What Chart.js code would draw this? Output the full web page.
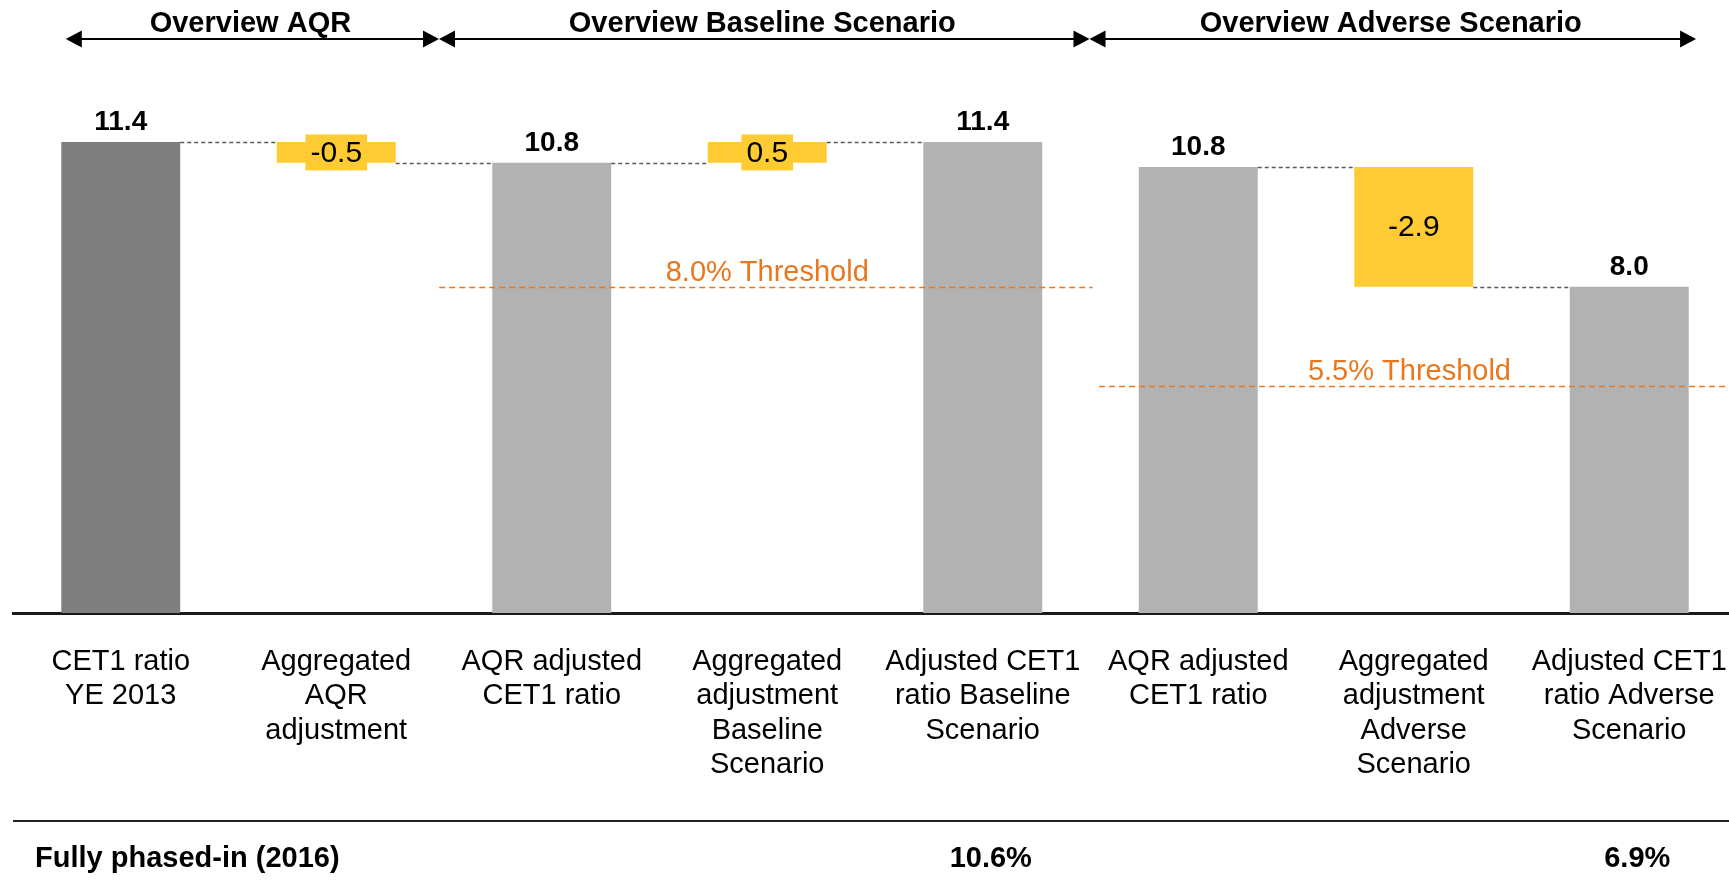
<!DOCTYPE html>
<html>
<head>
<meta charset="utf-8">
<script src="https://cdn.jsdelivr.net/npm/chart.js@4.4.1/dist/chart.umd.min.js"></script>
<style>
  html, body { margin: 0; padding: 0; background: #fff; overflow: hidden; }
  #wrap { width: 1737px; height: 887px; }
</style>
</head>
<body>
<div id="wrap"><canvas id="waterfall"></canvas></div>
<script>
(() => {
  'use strict'

  // Data
  const categories = [
    ['CET1 ratio', 'YE 2013'],
    ['Aggregated', 'AQR', 'adjustment'],
    ['AQR adjusted', 'CET1 ratio'],
    ['Aggregated', 'adjustment', 'Baseline', 'Scenario'],
    ['Adjusted CET1', 'ratio Baseline', 'Scenario'],
    ['AQR adjusted', 'CET1 ratio'],
    ['Aggregated', 'adjustment', 'Adverse', 'Scenario'],
    ['Adjusted CET1', 'ratio Adverse', 'Scenario']
  ]
  const barLow = [0, 10.9, 0, 10.9, 0, 0, 7.9, 0]
  const barHigh = [11.4, 11.4, 10.9, 11.4, 11.4, 10.8, 10.8, 7.9]
  const barLabels = ['11.4', '-0.5', '10.8', '0.5', '11.4', '10.8', '-2.9', '8.0']
  const barKinds = ['start', 'delta', 'total', 'delta', 'total', 'total', 'delta', 'total']
  const connectorBreaks = [4]

  const thresholdValues = [7.9, 5.5]
  const thresholdLabels = ['8.0% Threshold', '5.5% Threshold']
  const thresholdFrom = [1.478, 4.54]
  const thresholdTo = [4.51, 7.5]
  const thresholdLabelAt = [3, 5.98]

  const groupTitles = ['Overview AQR', 'Overview Baseline Scenario', 'Overview Adverse Scenario']
  const phasedInTitle = 'Fully phased-in (2016)'
  const phasedInValues = [null, null, null, null, '10.6%', null, null, '6.9%']

  const FONT = "'Liberation Sans', Arial, sans-serif"
  const colors = { start: '#7f7f7f', total: '#b2b2b2', delta: '#ffcb32' }
  const ORANGE = '#e8771e'

  const endLevel = (i) => {
    if (barKinds[i] !== 'delta') return barHigh[i]
    return parseFloat(barLabels[i]) < 0 ? barLow[i] : barHigh[i]
  }

  const drawArrow = (ctx, x1, x2, yy) => {
    const hl = 16, hw = 8.5
    ctx.beginPath()
    ctx.moveTo(x1 + hl - 1, yy)
    ctx.lineTo(x2 - hl + 1, yy)
    ctx.stroke()
    ctx.beginPath()
    ctx.moveTo(x1, yy); ctx.lineTo(x1 + hl, yy - hw); ctx.lineTo(x1 + hl, yy + hw); ctx.closePath()
    ctx.fill()
    ctx.beginPath()
    ctx.moveTo(x2, yy); ctx.lineTo(x2 - hl, yy - hw); ctx.lineTo(x2 - hl, yy + hw); ctx.closePath()
    ctx.fill()
  }

  const annotate = {
    id: 'annotate',
    afterDatasetsDraw(chart) {
      const { ctx, chartArea, scales: { x, y } } = chart
      const bars = chart.getDatasetMeta(0).data.map(b => b.getProps(['x', 'y', 'base', 'width'], true))
      ctx.save()

      // dashed connectors between bars
      ctx.strokeStyle = '#5a5a5a'
      ctx.lineWidth = 1.3
      ctx.setLineDash([4, 3])
      for (let i = 0; i < bars.length - 1; i++) {
        if (connectorBreaks.includes(i)) continue
        const a = bars[i], b = bars[i + 1]
        const py = Math.round(y.getPixelForValue(endLevel(i))) + 0.5
        ctx.beginPath()
        ctx.moveTo(a.x + a.width / 2, py)
        ctx.lineTo(b.x - b.width / 2, py)
        ctx.stroke()
      }

      // threshold lines
      ctx.strokeStyle = ORANGE
      ctx.lineWidth = 1.6
      ctx.setLineDash([6, 4])
      ctx.fillStyle = ORANGE
      ctx.font = `29px ${FONT}`
      ctx.textAlign = 'center'
      ctx.textBaseline = 'alphabetic'
      thresholdValues.forEach((v, i) => {
        const py = Math.round(y.getPixelForValue(v)) + 0.5
        const xa = x.getPixelForValue(thresholdFrom[i])
        const xb = Math.min(x.getPixelForValue(thresholdTo[i]), chartArea.right)
        ctx.beginPath()
        ctx.moveTo(xa, py)
        ctx.lineTo(xb, py)
        ctx.stroke()
        ctx.fillText(thresholdLabels[i], x.getPixelForValue(thresholdLabelAt[i]), py - 7)
      })
      ctx.setLineDash([])

      // bar value labels
      bars.forEach((b, i) => {
        const top = Math.min(b.y, b.base)
        const h = Math.abs(b.base - b.y)
        if (barKinds[i] === 'delta') {
          ctx.font = `30px ${FONT}`
          const cy = top + h / 2
          if (h < 36) {
            const w = ctx.measureText(barLabels[i]).width + 10
            ctx.fillStyle = colors.delta
            ctx.fillRect(b.x - w / 2, cy - 18, w, 36)
          }
          ctx.fillStyle = '#000'
          ctx.textBaseline = 'middle'
          ctx.fillText(barLabels[i], b.x, cy + 1)
        } else {
          ctx.font = `bold 28px ${FONT}`
          ctx.fillStyle = '#000'
          ctx.textBaseline = 'alphabetic'
          ctx.fillText(barLabels[i], b.x, top - 12)
        }
      })

      // group headers with arrows
      const step = x.getPixelForValue(1) - x.getPixelForValue(0)
      const b1 = x.getPixelForValue(1.5) - 5
      const b2 = x.getPixelForValue(4.5) - 1
      const spans = [
        [x.getPixelForValue(0) - step * 0.255, b1],
        [b1, b2],
        [b2, x.getPixelForValue(7) + step * 0.31]
      ]
      ctx.strokeStyle = '#000'
      ctx.fillStyle = '#000'
      ctx.lineWidth = 2
      ctx.font = `bold 29px ${FONT}`
      ctx.textBaseline = 'alphabetic'
      spans.forEach(([xa, xb], i) => {
        drawArrow(ctx, xa, xb, 39)
        ctx.fillText(groupTitles[i], (xa + xb) / 2 - 2, 32)
      })

      // fully phased-in row
      ctx.strokeStyle = '#222'
      ctx.lineWidth = 2
      ctx.beginPath()
      ctx.moveTo(chartArea.left, 821)
      ctx.lineTo(chart.width, 821)
      ctx.stroke()
      ctx.textAlign = 'left'
      ctx.fillText(phasedInTitle, 35, 867)
      ctx.textAlign = 'center'
      phasedInValues.forEach((v, i) => {
        if (v) ctx.fillText(v, x.getPixelForValue(i) + 8, 867)
      })

      ctx.restore()
    }
  }

  const ctx = document.getElementById('waterfall')
  // eslint-disable-next-line no-unused-vars
  const waterfall = new Chart(ctx, {
    type: 'bar',
    data: {
      labels: categories,
      datasets: [
        {
          data: barLow.map((lo, i) => [lo, barHigh[i]]),
          backgroundColor: barKinds.map(k => colors[k]),
          borderWidth: 0,
          barPercentage: 0.552,
          categoryPercentage: 1
        }
      ]
    },
    options: {
      responsive: true,
      maintainAspectRatio: false,
      animation: false,
      layout: { padding: { left: 13, right: 0, top: 0, bottom: 0 } },
      plugins: {
        legend: { display: false },
        tooltip: { enabled: false }
      },
      scales: {
        x: {
          grid: { display: false, drawTicks: false },
          border: { display: true, color: '#1a1a1a', width: 3 },
          ticks: {
            color: '#000',
            padding: 32,
            maxRotation: 0,
            autoSkip: false,
            font: { family: FONT, size: 29, lineHeight: 1.18 }
          },
          afterFit: (scale) => {
            scale.height = 274
            scale.paddingLeft = 0
            scale.paddingRight = 0
          }
        },
        y: {
          display: false,
          min: 0,
          max: 14.84
        }
      }
    },
    plugins: [annotate]
  })
})()
</script>
</body>
</html>
